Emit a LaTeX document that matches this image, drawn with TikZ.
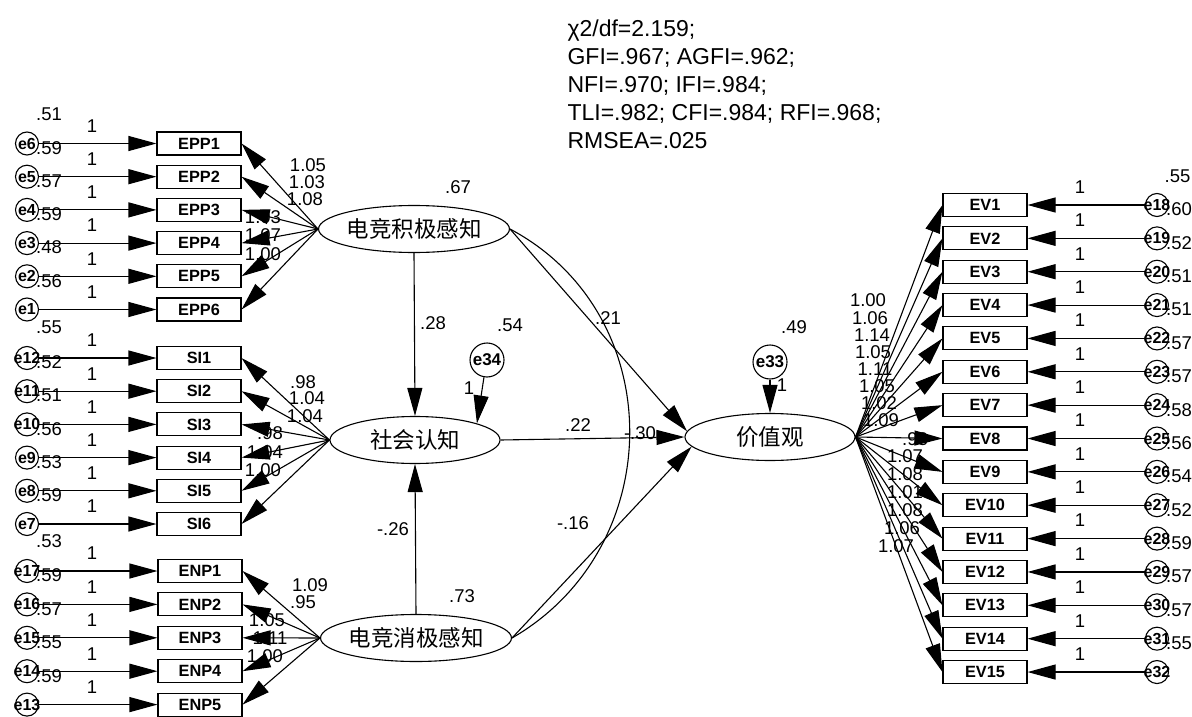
\documentclass[tikz,border=0pt]{standalone}
\usepackage{fontspec}
\setmainfont{Liberation Sans}
\newfontfamily\cjk{Noto Sans CJK SC}
\usetikzlibrary{arrows.meta,shapes.geometric}
\begin{document}
\begin{tikzpicture}[x=1pt,y=1pt,line width=1.1pt,
  num/.style={inner sep=0pt,font=\fontsize{18.5}{20}\selectfont},
  fit/.style={inner sep=0pt,anchor=base west,font=\fontsize{23}{25}\selectfont},
  obs/.style={draw,rectangle,minimum width=84pt,minimum height=23pt,inner sep=0pt,font=\bfseries\fontsize{16.3}{18}\selectfont},
  err/.style={draw,circle,minimum size=23pt,inner sep=0pt},
  bigerr/.style={draw,circle,minimum size=34pt,inner sep=0pt,font=\bfseries\fontsize{17}{18}\selectfont},
  elbl/.style={inner sep=0pt,font=\bfseries\fontsize{16}{18}\selectfont},
  lat/.style={draw,ellipse,minimum width=170pt,minimum height=47pt,inner sep=0pt,font=\cjk\fontsize{22.5}{24}\selectfont},
  arr/.style={-{Triangle[length=28pt,width=15pt]}}]
\useasboundingbox (0,0) rectangle (1192,-717);

% fit indices
\node[fit] (fit1) at (567,-37) {χ2/df=2.159;};
\node[fit] (fit2) at (567,-64.8) {GFI=.967; AGFI=.962;};
\node[fit] (fit3) at (567,-92.6) {NFI=.970; IFI=.984;};
\node[fit] (fit4) at (567,-120.4) {TLI=.982; CFI=.984; RFI=.968;};
\node[fit] (fit5) at (567,-148.2) {RMSEA=.025};

% latent variables
\node[lat] (P) at (414,-229) {电竞积极感知};
\node[lat] (S) at (415,-440) {社会认知};
\node[lat] (N) at (416,-638) {电竞消极感知};
\node[lat] (V) at (770,-437) {价值观};
\node[bigerr] (e34) at (487,-360) {e34};
\node[bigerr] (e33) at (770,-362) {e33};

% numeric labels (drawn under the arrows)
\foreach \x/\y/\t [count=\k] in {
  49/114.5/.51, 49/148/.59, 49/181.2/.57, 49/214.4/.59, 49/247.6/.48, 49/280.8/.56,
  49/327/.55, 49/362.5/.52, 49/395.7/.51, 49/428.9/.56, 49/462.1/.53, 49/495.3/.59,
  49/541/.53, 49/575.5/.59, 49/608.9/.57, 49/642.3/.55, 49/675.7/.59,
  1177.5/176/.55, 1179/209.5/.60, 1179/242.9/.52, 1179/276.2/.51, 1179/309.6/.51,
  1179/342.9/.57, 1179/376.3/.57, 1179/409.7/.58, 1179/443/.56, 1179/476.4/.54,
  1179/509.8/.52, 1179/543.1/.59, 1179/576.5/.57, 1179/609.8/.57, 1179/643.2/.55,
  308/165/1.05, 307/182/1.03, 305/199/1.08, 263/217/1.03, 263/235/1.07, 263/254/1.00,
  303/382/.98, 307/398/1.04, 305/416/1.04, 270/433/.98, 265/452/1.04, 263/470/1.00,
  310/585/1.09, 303/602/.95, 267/620/1.05, 270/638/1.11, 265/656/1.00,
  868/300/1.00, 870/318/1.06, 872/335/1.14, 873/352/1.05, 875/369/1.11,
  877/386/1.05, 879/403/1.02, 881/420/1.09, 915/439/.98, 905/456/1.07,
  905/474/1.08, 905/492/1.01, 905/510/1.08, 902/528/1.06, 896/546/1.07,
  458/187/.67, 462/596/.73, 510/325/.54, 794/327/.49,
  433/323/.28, 608/318/.21, 578/425/.22, 640/433/-.30, 393/529/-.26, 573/523/-.16,
  469/388/1, 782/385/1}
  \node[num] (lab\k) at (\x,-\y) {\t};

% EPP block
\foreach \i in {1,...,6}{
  \pgfmathsetmacro\yy{-(143.5+(\i-1)*33.2)}
  \pgfmathtruncatemacro\ee{7-\i}
  \node[obs] (EPP\i) at (199,\yy) {EPP\i};
  \node[err,label={[elbl]center:e\ee}] (e\ee) at (27,\yy) {};
  \node[num] (one\ee) at (92,\yy+17.5) {1};
  \draw[arr] (e\ee) -- (EPP\i.west);
  \draw[arr] (P.west) -- (EPP\i.east);
}
% SI block
\foreach \i in {1,...,6}{
  \pgfmathsetmacro\yy{-(358+(\i-1)*33.2)}
  \pgfmathtruncatemacro\ee{13-\i}
  \node[obs] (SI\i) at (199,\yy) {SI\i};
  \node[err,label={[elbl]center:e\ee}] (e\ee) at (27,\yy) {};
  \node[num] (one\ee) at (92,\yy+17.5) {1};
  \draw[arr] (e\ee) -- (SI\i.west);
  \draw[arr] (S.west) -- (SI\i.east);
}
% ENP block
\foreach \i in {1,...,5}{
  \pgfmathsetmacro\yy{-(571+(\i-1)*33.4)}
  \pgfmathtruncatemacro\ee{18-\i}
  \node[obs] (ENP\i) at (200,\yy) {ENP\i};
  \node[err,label={[elbl]center:e\ee}] (e\ee) at (27,\yy) {};
  \node[num] (one\ee) at (92,\yy+17.5) {1};
  \draw[arr] (e\ee) -- (ENP\i.west);
  \draw[arr] (N.west) -- (ENP\i.east);
}
% EV block
\foreach \i in {1,...,15}{
  \pgfmathsetmacro\yy{-(205+(\i-1)*33.36)}
  \pgfmathtruncatemacro\ee{17+\i}
  \node[obs] (EV\i) at (985,\yy) {EV\i};
  \node[err,label={[elbl]center:e\ee}] (e\ee) at (1157,\yy) {};
  \node[num] (one\ee) at (1080,\yy+18) {1};
  \draw[arr] (e\ee) -- (EV\i.east);
  \draw[arr] (V.east) -- (EV\i.west);
}

% structural paths
\draw[arr] (P.south) -- (S.north);
\draw[arr] (N.north) -- (S.south);
\draw[arr] (S.east) -- (V.west);
\draw[arr] (P.east) -- (V.176);
\draw[arr] (N.east) -- (V.187);
\draw[arr] (e34.260) -- (S.15);
\draw[arr] (e33.south) -- (V.north);
% covariance
\draw (P.east) .. controls +(-28:181) and +(30:181) .. (N.east);
\end{tikzpicture}
\end{document}
